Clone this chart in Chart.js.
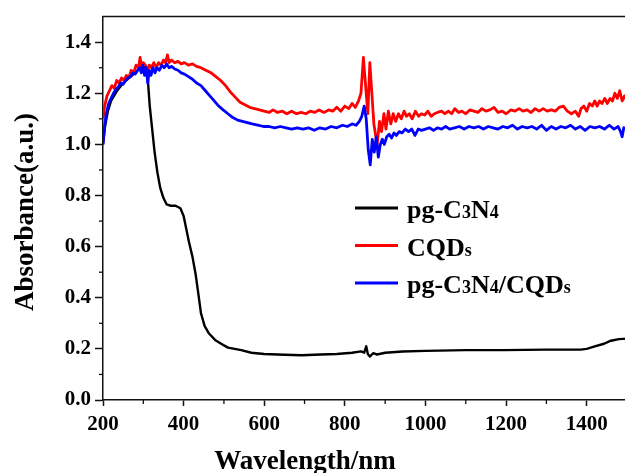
<!DOCTYPE html>
<html>
<head>
<meta charset="utf-8">
<script src="https://cdn.jsdelivr.net/npm/chart.js@4.4.1/dist/chart.umd.min.js"></script>
<style>
    html, body { margin: 0; padding: 0; background: #fff; overflow: hidden; }
    #contenedor { width: 630px; height: 473px; }
</style>
</head>
<body>
<div id="contenedor"><canvas id="chartAbsorbancia"></canvas></div>
<script>
// pg-C3N4
const wlC3N4 = [200, 205, 212, 220, 235, 250, 265, 280, 292, 300, 305, 310, 316, 322, 328, 335, 342, 350, 358, 368, 380, 392, 400, 413, 422, 430, 437, 443, 452, 463, 478, 493, 510, 543, 568, 600, 650, 693, 740, 780, 818, 840, 848, 853, 857, 862, 870, 880, 900, 943, 1000, 1100, 1193, 1300, 1385, 1400, 1420, 1443, 1460, 1480, 1500];
const absC3N4 = [1.00, 1.07, 1.13, 1.17, 1.21, 1.24, 1.26, 1.28, 1.30, 1.31, 1.30, 1.28, 1.15, 1.06, 0.97, 0.89, 0.83, 0.79, 0.765, 0.76, 0.76, 0.75, 0.72, 0.62, 0.56, 0.49, 0.41, 0.34, 0.29, 0.26, 0.235, 0.22, 0.205, 0.195, 0.185, 0.18, 0.177, 0.175, 0.178, 0.18, 0.185, 0.19, 0.185, 0.21, 0.18, 0.17, 0.183, 0.178, 0.185, 0.19, 0.192, 0.195, 0.195, 0.197, 0.197, 0.20, 0.21, 0.22, 0.232, 0.238, 0.24];

// CQDs
const wlCQDs = [200, 204, 210, 216, 222, 228, 234, 240, 246, 252, 258, 264, 270, 276, 282, 288, 292, 296, 300, 305, 310, 315, 320, 326, 332, 338, 344, 350, 355, 360, 364, 370, 378, 386, 394, 402, 412, 422, 432, 443, 455, 468, 480, 492, 504, 516, 528, 540, 552, 564, 576, 588,
    600, 612, 622, 633, 645, 656, 668, 680, 692, 703, 714, 725, 736, 748, 760, 770, 780, 790, 800, 810, 818, 826, 834, 840, 846, 852, 857, 862, 867, 872, 876,
    880, 886, 891, 897, 902, 908, 914, 920, 926, 933, 940, 947, 953, 960, 967, 975, 983, 990, 998, 1006, 1014, 1022, 1030, 1040, 1048, 1057, 1065, 1073, 1082, 1090, 1100, 1110, 1120, 1130, 1140, 1150, 1160, 1170, 1180, 1190, 1200,
    1212, 1222, 1232, 1242, 1252, 1262, 1272, 1282, 1292, 1302, 1312, 1322, 1332, 1342, 1352, 1362, 1372, 1380, 1386, 1393, 1400, 1407, 1414, 1420, 1426, 1432, 1438, 1445, 1451, 1458, 1464, 1470, 1476, 1482, 1488, 1494, 1500];
const absCQDs = [1.10, 1.15, 1.19, 1.21, 1.23, 1.22, 1.25, 1.24, 1.26, 1.25, 1.27, 1.26, 1.29, 1.28, 1.31, 1.30, 1.34, 1.30, 1.32, 1.31, 1.29, 1.31, 1.30, 1.32, 1.30, 1.32, 1.31, 1.33, 1.32, 1.35, 1.32, 1.33, 1.32, 1.325, 1.315, 1.32, 1.31, 1.315, 1.305, 1.30, 1.29, 1.28, 1.265, 1.25, 1.23, 1.205, 1.185, 1.165, 1.155, 1.145, 1.14, 1.135,
    1.13, 1.125, 1.135, 1.125, 1.13, 1.12, 1.13, 1.12, 1.125, 1.12, 1.13, 1.125, 1.135, 1.125, 1.135, 1.13, 1.145, 1.13, 1.15, 1.14, 1.16, 1.145, 1.17, 1.20, 1.34, 1.22, 1.12, 1.32, 1.20, 1.08, 1.04,
    1.00, 1.09, 1.05, 1.12, 1.06, 1.13, 1.08, 1.12, 1.09, 1.12, 1.10, 1.13, 1.11, 1.12, 1.10, 1.13, 1.11, 1.12, 1.115, 1.13, 1.11, 1.12, 1.125, 1.13, 1.12, 1.13, 1.12, 1.14, 1.125, 1.13, 1.12, 1.135, 1.13, 1.125, 1.14, 1.13, 1.135, 1.145, 1.125, 1.13, 1.12,
    1.135, 1.13, 1.14, 1.13, 1.135, 1.125, 1.14, 1.13, 1.14, 1.13, 1.135, 1.13, 1.145, 1.15, 1.13, 1.12, 1.13, 1.11, 1.14, 1.15, 1.13, 1.16, 1.15, 1.17, 1.15, 1.17, 1.16, 1.18, 1.16, 1.18, 1.17, 1.20, 1.18, 1.21, 1.17, 1.19, 1.17];

// pg-C3N4/CQDs
const wlCompuesto = [200, 204, 208, 214, 220, 226, 232, 238, 244, 250, 256, 262, 268, 274, 280, 286, 291, 295, 299, 303, 307, 311, 315, 319, 324, 329, 334, 340, 346, 352, 358, 364, 370, 378, 386, 394, 402, 412, 422, 432, 443, 454, 465, 476, 487, 498, 510, 522, 534, 546, 558, 570, 584, 598,
    612, 626, 640, 654, 668, 682, 696, 710, 724, 738, 752, 766, 780, 794, 806, 818, 828, 836, 842, 848, 853, 858, 863, 868, 873, 878, 883, 888, 893, 898,
    904, 910, 916, 922, 928, 935, 942, 950, 958, 966, 974, 982, 990, 1000, 1010, 1020, 1030, 1040, 1050, 1060, 1072, 1084, 1096, 1108, 1120, 1132, 1144, 1156, 1168, 1180, 1192,
    1204, 1216, 1228, 1240, 1252, 1264, 1276, 1288, 1300, 1312, 1324, 1336, 1348, 1360, 1372, 1384, 1396, 1408, 1420, 1432, 1444, 1456, 1468, 1478, 1484, 1488, 1492, 1500];
const absCompuesto = [1.00, 1.07, 1.12, 1.16, 1.18, 1.20, 1.215, 1.225, 1.24, 1.235, 1.25, 1.26, 1.265, 1.28, 1.275, 1.29, 1.30, 1.28, 1.31, 1.27, 1.30, 1.24, 1.29, 1.27, 1.30, 1.28, 1.30, 1.29, 1.31, 1.30, 1.315, 1.30, 1.305, 1.295, 1.29, 1.28, 1.275, 1.265, 1.255, 1.24, 1.23, 1.21, 1.19, 1.17, 1.15, 1.135, 1.12, 1.105, 1.095, 1.09, 1.085, 1.08, 1.075, 1.07,
    1.07, 1.065, 1.07, 1.065, 1.06, 1.065, 1.06, 1.065, 1.055, 1.065, 1.06, 1.07, 1.065, 1.075, 1.07, 1.08, 1.075, 1.09, 1.11, 1.15, 1.10, 0.98, 0.92, 1.02, 0.97, 1.03, 0.95, 1.00, 1.02, 1.00,
    1.03, 1.04, 1.025, 1.045, 1.035, 1.05, 1.045, 1.06, 1.05, 1.06, 1.035, 1.06, 1.055, 1.06, 1.065, 1.055, 1.065, 1.06, 1.07, 1.06, 1.065, 1.07, 1.06, 1.07, 1.065, 1.07, 1.06, 1.07, 1.065, 1.06, 1.07,
    1.065, 1.075, 1.06, 1.07, 1.065, 1.07, 1.06, 1.075, 1.055, 1.07, 1.06, 1.07, 1.065, 1.075, 1.06, 1.07, 1.055, 1.07, 1.065, 1.07, 1.06, 1.075, 1.06, 1.07, 1.05, 1.03, 1.065, 1.06];

const ticksX = [200, 400, 600, 800, 1000, 1200, 1400];
const ticksY = [0.0, 0.2, 0.4, 0.6, 0.8, 1.0, 1.2, 1.4];
const menoresX = [300, 500, 700, 900, 1100, 1300, 1500];
const menoresY = [0.1, 0.3, 0.5, 0.7, 0.9, 1.1, 1.3];

// leyenda: cada etiqueta en trozos [texto, esPequeño]
const leyenda = [
    { color: '#000000', partes: [['pg-C', 0], ['3', 1], ['N', 0], ['4', 1]] },
    { color: '#ff0000', partes: [['CQD', 0], ['s', 1]] },
    { color: '#0000ff', partes: [['pg-C', 0], ['3', 1], ['N', 0], ['4', 1], ['/CQD', 0], ['s', 1]] }
];

const FUENTE = "'Liberation Serif', 'Times New Roman', serif";

function puntos(xs, ys) {
    return xs.map((x, i) => ({ x, y: ys[i] }));
}

const decoracion = {
    id: 'decoracion',
    afterDraw(chart) {
        const { ctx, chartArea: a, scales: { x, y } } = chart;
        ctx.save();

        // marco superior
        ctx.strokeStyle = '#111';
        ctx.lineWidth = 1.5;
        ctx.beginPath();
        ctx.moveTo(a.left - 0.75, a.top);
        ctx.lineTo(a.right, a.top);
        ctx.stroke();

        // ticks menores hacia afuera
        ctx.lineWidth = 1.3;
        menoresX.forEach(v => {
            const px = x.getPixelForValue(v);
            ctx.beginPath();
            ctx.moveTo(px, a.bottom);
            ctx.lineTo(px, a.bottom + 4);
            ctx.stroke();
        });
        menoresY.forEach(v => {
            const py = y.getPixelForValue(v);
            ctx.beginPath();
            ctx.moveTo(a.left, py);
            ctx.lineTo(a.left - 4, py);
            ctx.stroke();
        });

        // títulos de ejes
        ctx.fillStyle = '#000';
        ctx.font = `bold 27px ${FUENTE}`;
        ctx.textAlign = 'center';
        ctx.textBaseline = 'alphabetic';
        ctx.fillText('Wavelength/nm', 305, 469);
        ctx.save();
        ctx.translate(33, 212);
        ctx.rotate(-Math.PI / 2);
        ctx.fillText('Absorbance(a.u.)', 0, 0);
        ctx.restore();

        // leyenda
        ctx.textAlign = 'left';
        leyenda.forEach((item, i) => {
            const ly = 208 + i * 37.5;
            ctx.strokeStyle = item.color;
            ctx.lineWidth = 3;
            ctx.beginPath();
            ctx.moveTo(355, ly);
            ctx.lineTo(398, ly);
            ctx.stroke();

            let tx = 407;
            item.partes.forEach(([texto, chico]) => {
                ctx.font = chico ? `bold 18px ${FUENTE}` : `bold 26px ${FUENTE}`;
                ctx.fillText(texto, tx, ly + 10);
                tx += ctx.measureText(texto).width;
            });
        });

        ctx.restore();
    }
};

function renderChartAbsorbancia() {
    const canvas = document.getElementById('chartAbsorbancia');
    if (!canvas) return;

    window.chartAbsorbancia = new Chart(canvas, {
        type: 'line',
        data: {
            datasets: [
                {
                    label: 'pg-C3N4/CQDs',
                    data: puntos(wlCompuesto, absCompuesto),
                    borderColor: '#0000ff',
                    borderWidth: 2.8,
                    order: 0
                },
                {
                    label: 'CQDs',
                    data: puntos(wlCQDs, absCQDs),
                    borderColor: '#ff0000',
                    borderWidth: 2.8,
                    order: 1
                },
                {
                    label: 'pg-C3N4',
                    data: puntos(wlC3N4, absC3N4),
                    borderColor: '#000000',
                    borderWidth: 2.4,
                    order: 2
                }
            ]
        },
        options: {
            responsive: true,
            maintainAspectRatio: false,
            animation: false,
            devicePixelRatio: 1,
            elements: {
                point: { radius: 0 },
                line: { tension: 0, borderJoinStyle: 'round' }
            },
            layout: { padding: { top: 13, right: 3, left: 0, bottom: 0 } },
            plugins: {
                legend: { display: false },
                tooltip: { enabled: false }
            },
            scales: {
                x: {
                    type: 'linear',
                    min: 200,
                    max: 1500,
                    afterFit: s => { s.height = 73; },
                    afterBuildTicks: s => { s.ticks = ticksX.map(v => ({ value: v })); },
                    ticks: {
                        color: '#000',
                        padding: 6,
                        maxRotation: 0,
                        callback: v => String(v),
                        font: { family: FUENTE, size: 21, weight: 'bold' }
                    },
                    grid: {
                        drawOnChartArea: false,
                        tickLength: 6,
                        tickColor: '#111',
                        tickWidth: 1.5
                    },
                    border: { display: true, color: '#111', width: 1.5 }
                },
                y: {
                    min: 0,
                    max: 1.5,
                    afterFit: s => { s.width = 103; },
                    afterBuildTicks: s => { s.ticks = ticksY.map(v => ({ value: v })); },
                    ticks: {
                        color: '#000',
                        padding: 4,
                        callback: v => v.toFixed(1),
                        font: { family: FUENTE, size: 21, weight: 'bold' }
                    },
                    grid: {
                        drawOnChartArea: false,
                        tickLength: 8,
                        tickColor: '#111',
                        tickWidth: 1.5
                    },
                    border: { display: true, color: '#111', width: 1.5 }
                }
            }
        },
        plugins: [decoracion]
    });
}

renderChartAbsorbancia();
</script>
</body>
</html>
